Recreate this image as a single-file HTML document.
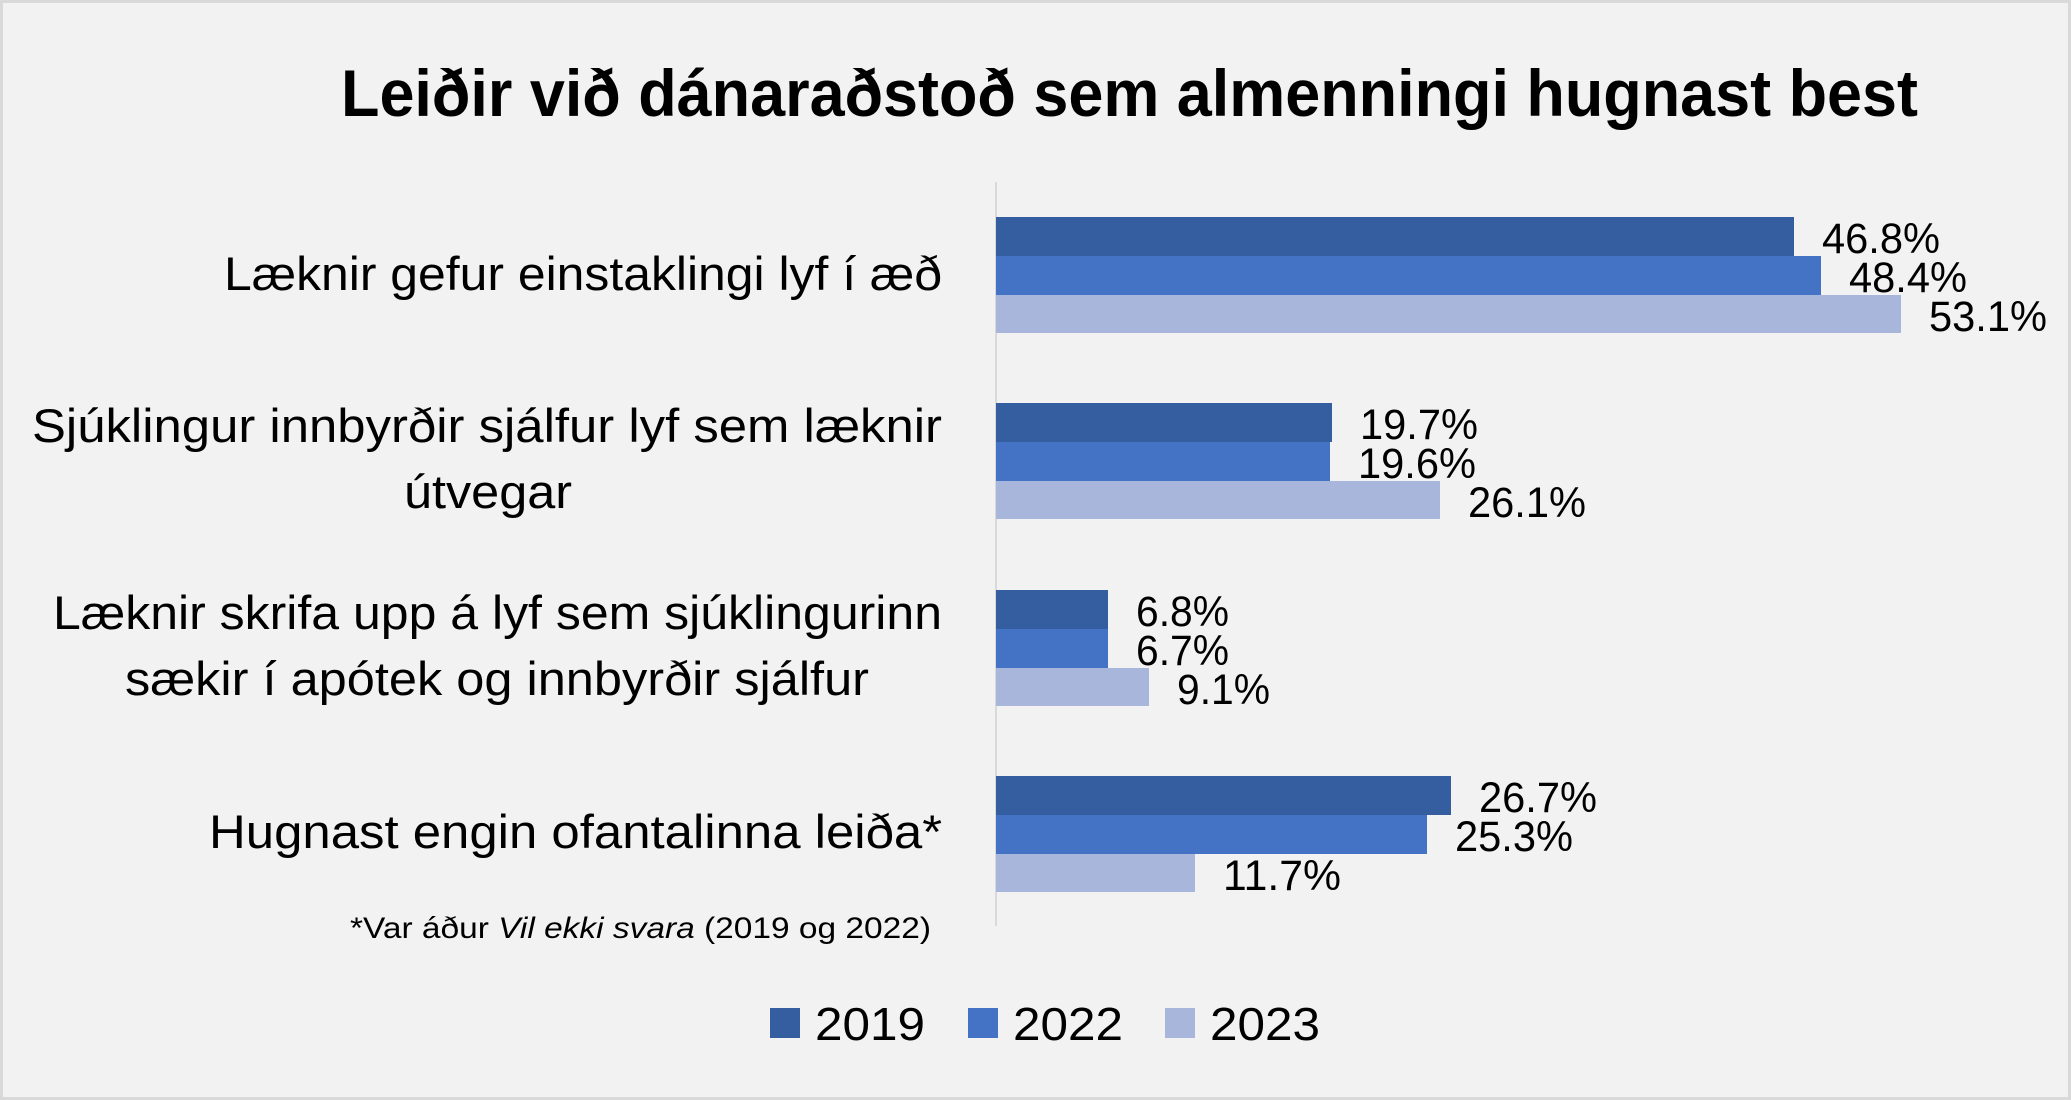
<!DOCTYPE html>
<html><head><meta charset="utf-8"><style>
html,body{margin:0;padding:0;background:#f2f2f2}
svg{display:block}
text{font-family:"Liberation Sans",Arial,sans-serif;fill:#000}
</style></head><body>
<svg width="2071" height="1100" viewBox="0 0 2071 1100" xmlns="http://www.w3.org/2000/svg">
<rect x="1.5" y="1.5" width="2068" height="1097" fill="#f2f2f2" stroke="#d9d9d9" stroke-width="3"/>
<text x="341" y="116" font-size="66" font-weight="bold" textLength="1577" lengthAdjust="spacingAndGlyphs">Leiðir við dánaraðstoð sem almenningi hugnast best</text>
<line x1="996" y1="182" x2="996" y2="926" stroke="#d9d9d9" stroke-width="2"/>
<g>
<rect x="996" y="217" width="798" height="39" fill="#355ea0"/>
<rect x="996" y="256" width="825" height="39" fill="#4472c4"/>
<rect x="996" y="295" width="905" height="38" fill="#a9b6dc"/>
<rect x="996" y="403" width="336" height="39" fill="#355ea0"/>
<rect x="996" y="442" width="334" height="39" fill="#4472c4"/>
<rect x="996" y="481" width="444" height="38" fill="#a9b6dc"/>
<rect x="996" y="590" width="112" height="39" fill="#355ea0"/>
<rect x="996" y="629" width="112" height="39" fill="#4472c4"/>
<rect x="996" y="668" width="153" height="38" fill="#a9b6dc"/>
<rect x="996" y="776" width="455" height="39" fill="#355ea0"/>
<rect x="996" y="815" width="431" height="39" fill="#4472c4"/>
<rect x="996" y="854" width="199" height="38" fill="#a9b6dc"/>
</g>
<g font-size="43">
<text x="1822" y="253" textLength="118" lengthAdjust="spacingAndGlyphs">46.8%</text>
<text x="1849" y="292" textLength="118" lengthAdjust="spacingAndGlyphs">48.4%</text>
<text x="1929" y="331" textLength="118" lengthAdjust="spacingAndGlyphs">53.1%</text>
<text x="1360" y="439" textLength="118" lengthAdjust="spacingAndGlyphs">19.7%</text>
<text x="1358" y="478" textLength="118" lengthAdjust="spacingAndGlyphs">19.6%</text>
<text x="1468" y="517" textLength="118" lengthAdjust="spacingAndGlyphs">26.1%</text>
<text x="1136" y="626" textLength="93" lengthAdjust="spacingAndGlyphs">6.8%</text>
<text x="1136" y="665" textLength="93" lengthAdjust="spacingAndGlyphs">6.7%</text>
<text x="1177" y="704" textLength="93" lengthAdjust="spacingAndGlyphs">9.1%</text>
<text x="1479" y="812" textLength="118" lengthAdjust="spacingAndGlyphs">26.7%</text>
<text x="1455" y="851" textLength="118" lengthAdjust="spacingAndGlyphs">25.3%</text>
<text x="1223" y="890" textLength="118" lengthAdjust="spacingAndGlyphs">11.7%</text>
</g>
<g font-size="47">
<text x="224" y="290" textLength="718" lengthAdjust="spacingAndGlyphs">Læknir gefur einstaklingi lyf í æð</text>
<text x="32" y="442" textLength="910" lengthAdjust="spacingAndGlyphs">Sjúklingur innbyrðir sjálfur lyf sem læknir</text>
<text x="404" y="508" textLength="168" lengthAdjust="spacingAndGlyphs">útvegar</text>
<text x="53" y="629" textLength="889" lengthAdjust="spacingAndGlyphs">Læknir skrifa upp á lyf sem sjúklingurinn</text>
<text x="125" y="695" textLength="744" lengthAdjust="spacingAndGlyphs">sækir í apótek og innbyrðir sjálfur</text>
<text x="209" y="848" textLength="733" lengthAdjust="spacingAndGlyphs">Hugnast engin ofantalinna leiða*</text>
</g>
<text x="350" y="938" font-size="30" textLength="581" lengthAdjust="spacingAndGlyphs">*Var áður <tspan font-style="italic">Vil ekki svara</tspan> (2019 og 2022)</text>
<rect x="770" y="1008" width="30" height="30" fill="#355ea0"/>
<text x="815" y="1040" font-size="46" textLength="110" lengthAdjust="spacingAndGlyphs">2019</text>
<rect x="968" y="1008" width="30" height="30" fill="#4472c4"/>
<text x="1013" y="1040" font-size="46" textLength="110" lengthAdjust="spacingAndGlyphs">2022</text>
<rect x="1165" y="1008" width="30" height="30" fill="#a9b6dc"/>
<text x="1210" y="1040" font-size="46" textLength="110" lengthAdjust="spacingAndGlyphs">2023</text>
</svg>
</body></html>
